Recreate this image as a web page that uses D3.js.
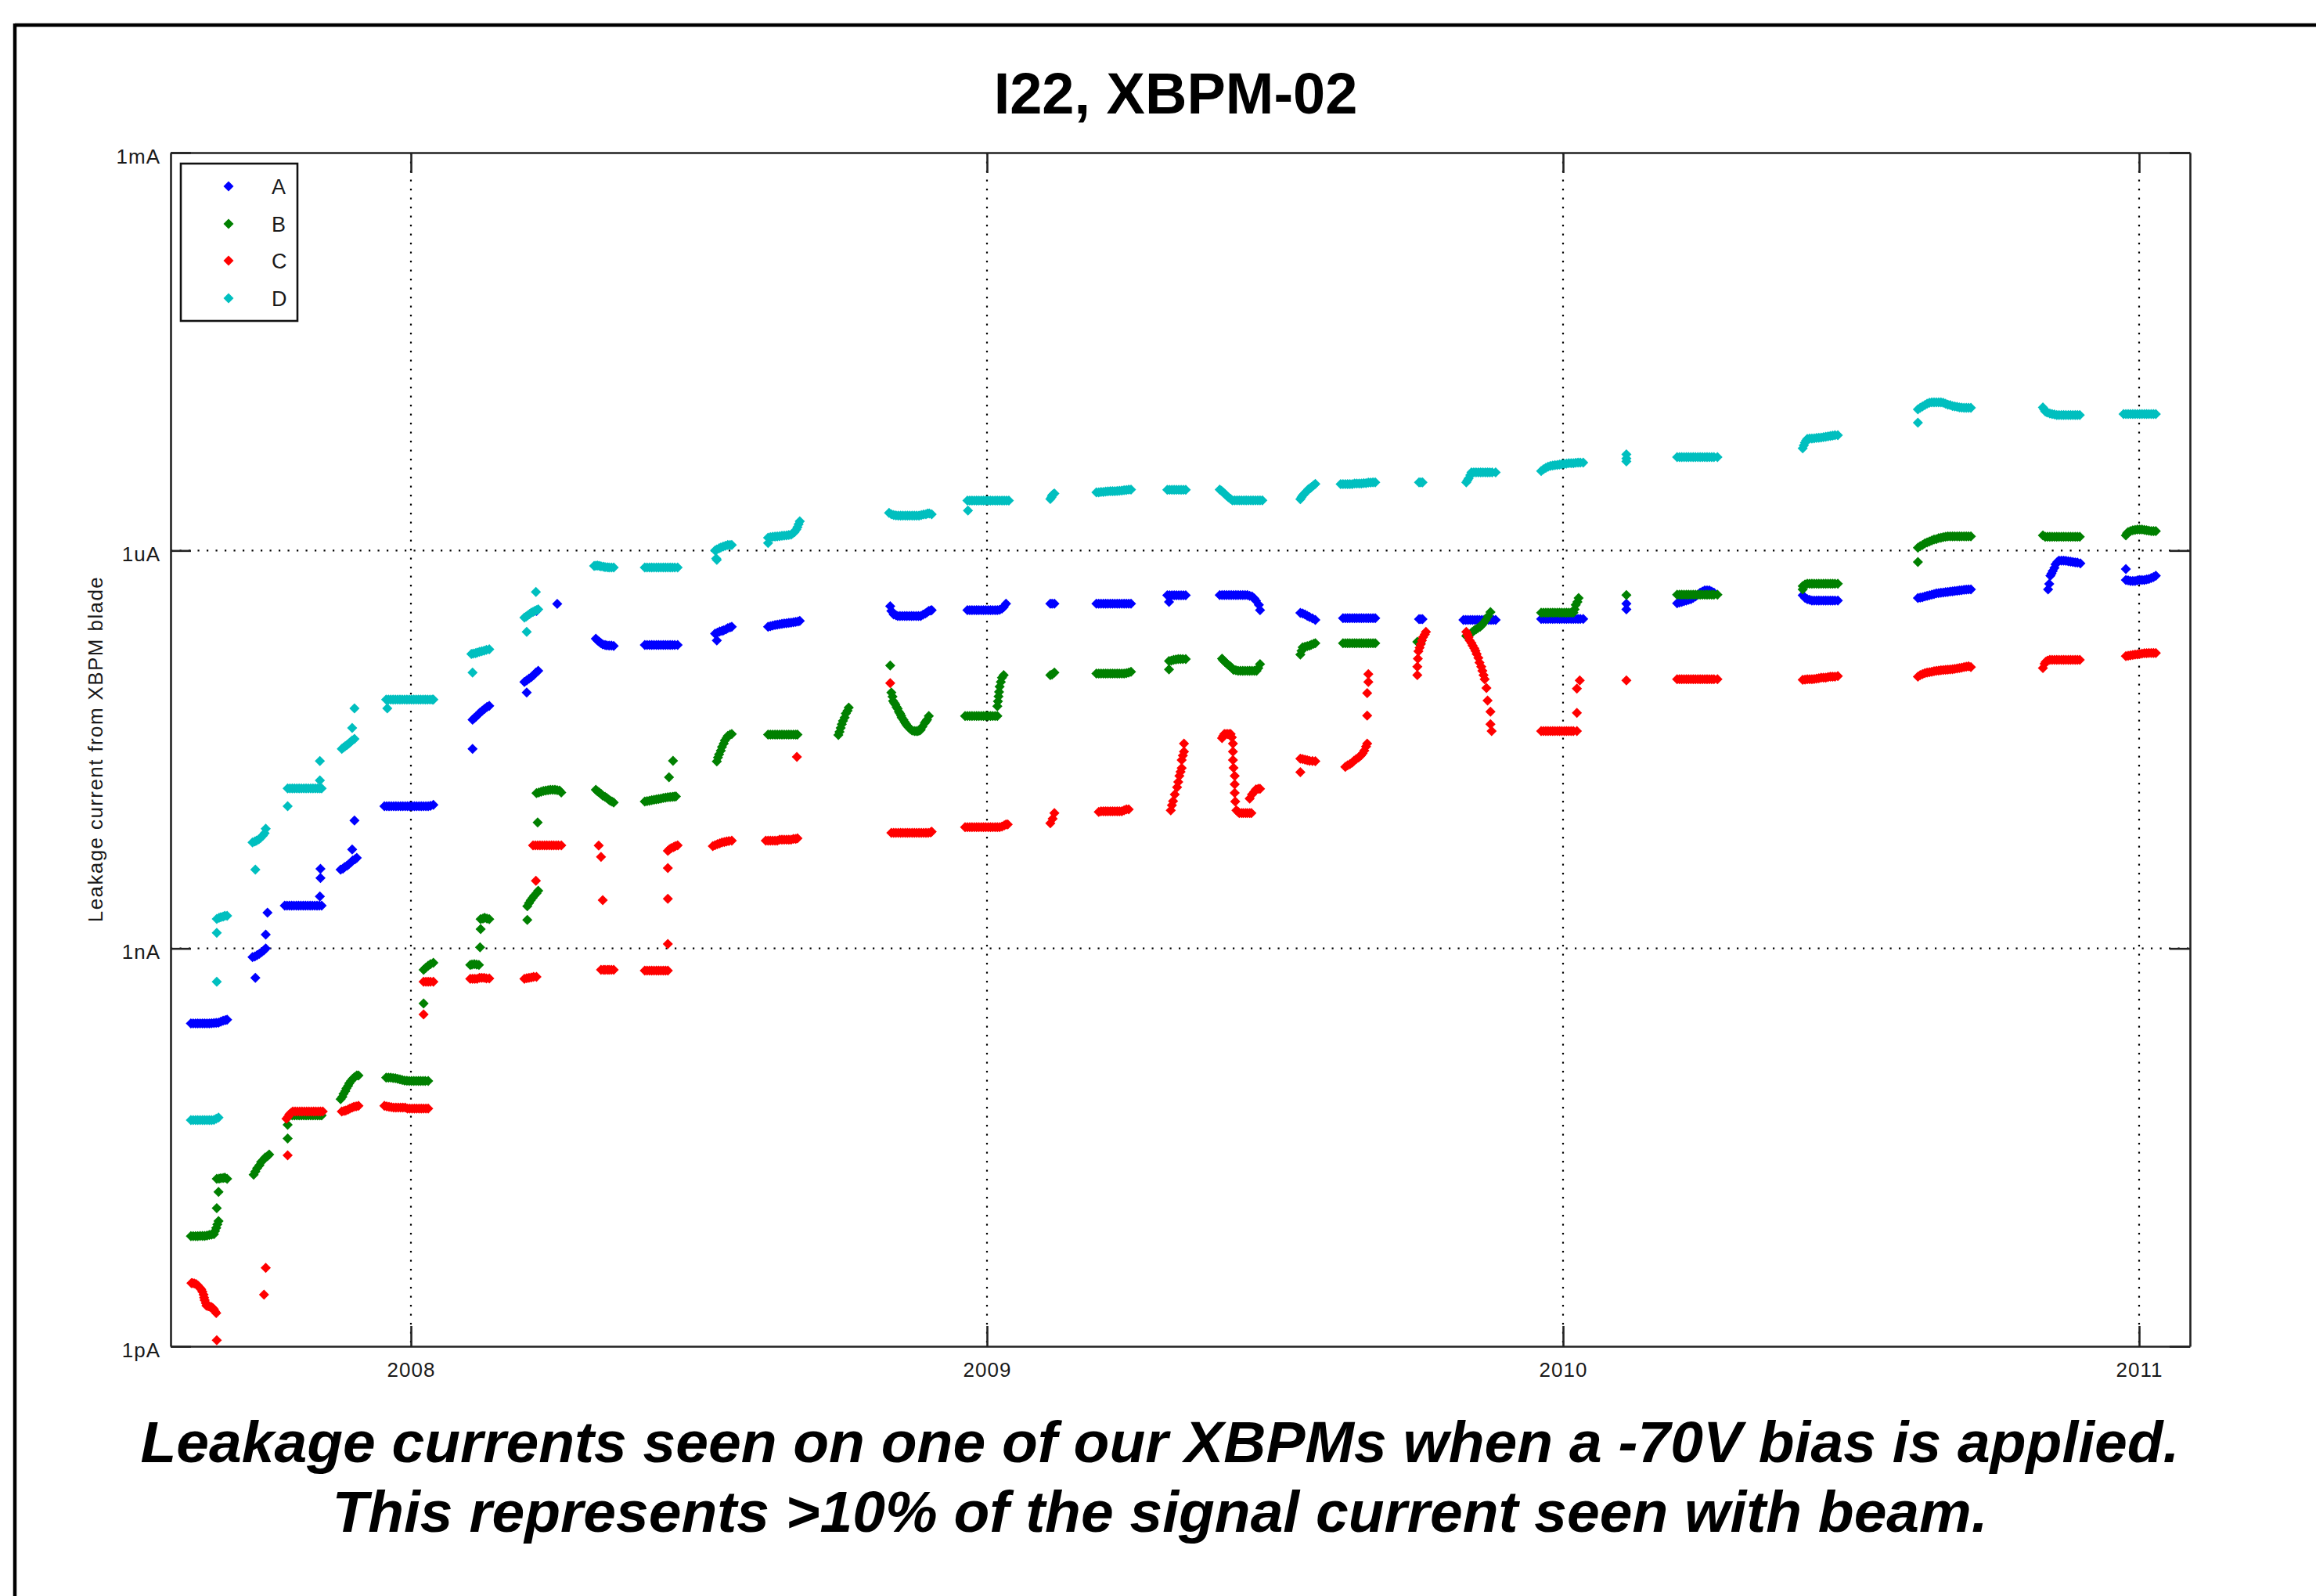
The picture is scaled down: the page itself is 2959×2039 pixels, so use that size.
<!DOCTYPE html>
<html>
<head>
<meta charset="utf-8">
<script src="https://cdn.jsdelivr.net/npm/d3@7"></script>
<style>
  html, body { margin: 0; padding: 0; background: #ffffff; }
  svg { display: block; }
</style>
</head>
<body>
<script>
// ---------------- DATA ----------------
const titleText = "I22, XBPM-02";
const yAxisLabel = "Leakage current from XBPM blade";
const captionLines = [
  "Leakage currents seen on one of our XBPMs when a -70V bias is applied.",
  "This represents >10% of the signal current seen with beam."
];
const years = [2008, 2009, 2010, 2011];
const yearLabels = ["2008", "2009", "2010", "2011"];
const currentTicks = [1e-12, 1e-9, 1e-6, 1e-3];
const currentLabels = ["1pA", "1nA", "1uA", "1mA"];
const seriesNames = ["A", "B", "C", "D"];
const seriesColors = ["#0000ff", "#008000", "#ff0000", "#00bfbf"];

// [decimal year, leakage current in amps]
const seriesA = [
  [2007.618,2.72e-10],[2007.622,2.72e-10],[2007.626,2.72e-10],[2007.630,2.72e-10],[2007.634,2.72e-10],[2007.638,2.72e-10],[2007.642,2.72e-10],[2007.646,2.72e-10],[2007.650,2.72e-10],[2007.654,2.73e-10],[2007.658,2.74e-10],[2007.662,2.75e-10],[2007.666,2.76e-10],[2007.670,2.8e-10],[2007.674,2.85e-10],[2007.678,2.88e-10],[2007.681,2.9e-10],
  [2007.730,6.0e-10],
  [2007.725,8.6e-10],[2007.729,8.7e-10],[2007.733,8.9e-10],[2007.737,9.1e-10],[2007.741,9.4e-10],[2007.745,9.7e-10],[2007.748,1.0e-9],
  [2007.748,1.27e-9],[2007.751,1.86e-9],
  [2007.781,2.1e-9],[2007.785,2.1e-9],[2007.789,2.1e-9],[2007.793,2.1e-9],[2007.797,2.1e-9],[2007.801,2.1e-9],[2007.805,2.1e-9],[2007.809,2.1e-9],[2007.813,2.1e-9],[2007.817,2.1e-9],[2007.821,2.1e-9],[2007.825,2.1e-9],[2007.829,2.1e-9],[2007.833,2.1e-9],[2007.837,2.1e-9],[2007.841,2.1e-9],[2007.845,2.1e-9],
  [2007.842,2.47e-9],[2007.843,3.39e-9],[2007.843,3.98e-9],
  [2007.878,3.93e-9],[2007.882,4.0e-9],[2007.885,4.1e-9],[2007.889,4.2e-9],[2007.892,4.3e-9],[2007.896,4.45e-9],[2007.899,4.6e-9],[2007.903,4.7e-9],[2007.906,4.82e-9],
  [2007.898,5.58e-9],[2007.902,9.2e-9],
  [2007.954,1.18e-8],[2007.958,1.18e-8],[2007.962,1.18e-8],[2007.966,1.18e-8],[2007.970,1.18e-8],[2007.974,1.18e-8],[2007.978,1.18e-8],[2007.982,1.18e-8],[2007.986,1.18e-8],[2007.990,1.18e-8],[2007.994,1.18e-8],[2007.998,1.18e-8],[2008.002,1.18e-8],[2008.006,1.18e-8],[2008.010,1.18e-8],[2008.014,1.18e-8],[2008.018,1.18e-8],[2008.022,1.18e-8],[2008.026,1.18e-8],[2008.030,1.18e-8],[2008.034,1.19e-8],[2008.039,1.21e-8],
  [2008.107,3.2e-8],
  [2008.107,5.3e-8],[2008.110,5.45e-8],[2008.113,5.6e-8],[2008.117,5.8e-8],[2008.120,6.0e-8],[2008.124,6.2e-8],[2008.128,6.4e-8],[2008.132,6.6e-8],[2008.136,6.75e-8],
  [2008.201,8.5e-8],
  [2008.197,1.02e-7],[2008.201,1.05e-7],[2008.205,1.08e-7],[2008.209,1.11e-7],[2008.213,1.15e-7],[2008.217,1.2e-7],[2008.221,1.24e-7],
  [2008.218,3.5e-7],[2008.254,3.96e-7],
  [2008.321,2.16e-7],[2008.324,2.1e-7],[2008.327,2.05e-7],[2008.330,2.0e-7],[2008.333,1.96e-7],[2008.337,1.94e-7],[2008.340,1.93e-7],[2008.344,1.92e-7],[2008.348,1.92e-7],[2008.352,1.91e-7],
  [2008.406,1.94e-7],[2008.410,1.94e-7],[2008.414,1.94e-7],[2008.418,1.94e-7],[2008.422,1.94e-7],[2008.426,1.94e-7],[2008.430,1.94e-7],[2008.434,1.94e-7],[2008.438,1.94e-7],[2008.442,1.94e-7],[2008.446,1.94e-7],[2008.450,1.94e-7],[2008.454,1.94e-7],[2008.458,1.94e-7],[2008.463,1.94e-7],
  [2008.531,2.1e-7],
  [2008.528,2.36e-7],[2008.532,2.4e-7],[2008.536,2.45e-7],[2008.540,2.48e-7],[2008.543,2.5e-7],[2008.547,2.55e-7],[2008.550,2.6e-7],[2008.554,2.63e-7],[2008.557,2.66e-7],
  [2008.620,2.66e-7],[2008.624,2.69e-7],[2008.628,2.72e-7],[2008.632,2.74e-7],[2008.636,2.76e-7],[2008.640,2.78e-7],[2008.644,2.8e-7],[2008.648,2.82e-7],[2008.652,2.83e-7],[2008.656,2.85e-7],[2008.660,2.86e-7],[2008.664,2.88e-7],[2008.668,2.9e-7],[2008.672,2.92e-7],[2008.675,2.95e-7],
  [2008.832,3.8e-7],[2008.834,3.5e-7],[2008.838,3.3e-7],[2008.842,3.25e-7],[2008.845,3.21e-7],[2008.849,3.21e-7],[2008.853,3.21e-7],[2008.857,3.21e-7],[2008.861,3.21e-7],[2008.865,3.21e-7],[2008.869,3.21e-7],[2008.873,3.21e-7],[2008.877,3.21e-7],[2008.881,3.21e-7],[2008.885,3.21e-7],[2008.889,3.28e-7],[2008.893,3.35e-7],[2008.896,3.42e-7],[2008.899,3.5e-7],[2008.902,3.53e-7],[2008.904,3.55e-7],
  [2008.966,3.55e-7],[2008.970,3.55e-7],[2008.974,3.55e-7],[2008.978,3.55e-7],[2008.982,3.55e-7],[2008.986,3.55e-7],[2008.990,3.55e-7],[2008.994,3.55e-7],[2008.998,3.55e-7],[2009.002,3.55e-7],[2009.006,3.55e-7],[2009.010,3.55e-7],[2009.014,3.55e-7],[2009.018,3.55e-7],[2009.022,3.58e-7],[2009.026,3.65e-7],[2009.029,3.75e-7],[2009.033,3.98e-7],
  [2009.110,3.98e-7],[2009.113,3.98e-7],[2009.117,3.98e-7],
  [2009.190,3.98e-7],[2009.194,3.98e-7],[2009.198,3.98e-7],[2009.202,3.98e-7],[2009.206,3.98e-7],[2009.210,3.98e-7],[2009.214,3.98e-7],[2009.218,3.98e-7],[2009.222,3.98e-7],[2009.226,3.98e-7],[2009.230,3.98e-7],[2009.234,3.98e-7],[2009.238,3.98e-7],[2009.242,3.98e-7],[2009.246,3.98e-7],[2009.250,3.98e-7],
  [2009.316,4.1e-7],[2009.313,4.6e-7],[2009.317,4.6e-7],[2009.321,4.6e-7],[2009.325,4.6e-7],[2009.329,4.6e-7],[2009.333,4.6e-7],[2009.337,4.6e-7],[2009.341,4.6e-7],[2009.345,4.6e-7],
  [2009.404,4.62e-7],[2009.408,4.62e-7],[2009.412,4.62e-7],[2009.416,4.62e-7],[2009.420,4.62e-7],[2009.424,4.62e-7],[2009.428,4.62e-7],[2009.432,4.62e-7],[2009.436,4.62e-7],[2009.440,4.62e-7],[2009.444,4.62e-7],[2009.448,4.62e-7],[2009.452,4.62e-7],[2009.456,4.55e-7],[2009.460,4.5e-7],[2009.464,4.35e-7],[2009.467,4.18e-7],[2009.472,3.9e-7],[2009.474,3.55e-7],
  [2009.544,3.39e-7],[2009.548,3.35e-7],[2009.552,3.3e-7],[2009.556,3.22e-7],[2009.560,3.15e-7],[2009.565,3.08e-7],[2009.570,3.0e-7],
  [2009.618,3.09e-7],[2009.622,3.09e-7],[2009.626,3.09e-7],[2009.630,3.09e-7],[2009.634,3.09e-7],[2009.638,3.09e-7],[2009.642,3.09e-7],[2009.646,3.09e-7],[2009.650,3.09e-7],[2009.654,3.09e-7],[2009.658,3.09e-7],[2009.662,3.09e-7],[2009.666,3.09e-7],[2009.670,3.09e-7],[2009.674,3.09e-7],
  [2009.750,3.04e-7],[2009.753,3.04e-7],[2009.756,3.04e-7],
  [2009.827,3.0e-7],[2009.831,3.0e-7],[2009.835,3.0e-7],[2009.839,3.0e-7],[2009.843,3.0e-7],[2009.847,3.0e-7],[2009.851,3.0e-7],[2009.855,3.0e-7],[2009.859,3.0e-7],[2009.863,3.0e-7],[2009.867,3.0e-7],[2009.871,3.0e-7],[2009.875,3.0e-7],[2009.879,3.0e-7],[2009.883,3.0e-7],
  [2009.962,3.05e-7],[2009.966,3.05e-7],[2009.970,3.05e-7],[2009.974,3.05e-7],[2009.978,3.05e-7],[2009.982,3.05e-7],[2009.986,3.05e-7],[2009.990,3.05e-7],[2009.994,3.05e-7],[2009.998,3.05e-7],[2010.002,3.05e-7],[2010.006,3.05e-7],[2010.010,3.05e-7],[2010.014,3.05e-7],[2010.018,3.05e-7],[2010.022,3.05e-7],[2010.026,3.05e-7],[2010.030,3.05e-7],[2010.035,3.05e-7],
  [2010.110,3.98e-7],[2010.110,3.6e-7],
  [2010.198,4.0e-7],[2010.202,4.05e-7],[2010.206,4.1e-7],[2010.210,4.15e-7],[2010.214,4.2e-7],[2010.218,4.25e-7],[2010.222,4.3e-7],[2010.226,4.4e-7],[2010.230,4.5e-7],[2010.234,4.65e-7],[2010.238,4.8e-7],[2010.242,4.9e-7],[2010.246,5.0e-7],[2010.250,5.0e-7],[2010.254,5.0e-7],[2010.258,4.9e-7],[2010.262,4.8e-7],
  [2010.416,4.6e-7],[2010.420,4.4e-7],[2010.424,4.3e-7],[2010.428,4.25e-7],[2010.432,4.2e-7],[2010.436,4.2e-7],[2010.440,4.2e-7],[2010.444,4.2e-7],[2010.448,4.2e-7],[2010.452,4.2e-7],[2010.456,4.2e-7],[2010.460,4.2e-7],[2010.464,4.2e-7],[2010.468,4.2e-7],[2010.472,4.2e-7],[2010.477,4.2e-7],
  [2010.616,4.38e-7],[2010.620,4.42e-7],[2010.624,4.45e-7],[2010.628,4.5e-7],[2010.632,4.55e-7],[2010.636,4.6e-7],[2010.640,4.65e-7],[2010.644,4.7e-7],[2010.648,4.75e-7],[2010.652,4.78e-7],[2010.656,4.8e-7],[2010.660,4.82e-7],[2010.664,4.85e-7],[2010.668,4.88e-7],[2010.672,4.9e-7],[2010.676,4.92e-7],[2010.680,4.95e-7],[2010.684,4.98e-7],[2010.688,5.0e-7],[2010.692,5.02e-7],[2010.696,5.05e-7],[2010.700,5.08e-7],[2010.704,5.1e-7],[2010.708,5.1e-7],
  [2010.842,5.1e-7],[2010.844,5.6e-7],[2010.846,6.46e-7],[2010.848,6.7e-7],[2010.850,7.0e-7],[2010.853,7.4e-7],[2010.855,7.87e-7],[2010.858,8.2e-7],[2010.861,8.4e-7],[2010.865,8.4e-7],[2010.869,8.4e-7],[2010.873,8.35e-7],[2010.877,8.3e-7],[2010.881,8.25e-7],[2010.885,8.2e-7],[2010.889,8.15e-7],[2010.893,8.1e-7],[2010.898,8.0e-7],
  [2010.977,7.26e-7],[2010.977,6.0e-7],[2010.981,5.95e-7],[2010.985,5.9e-7],[2010.989,5.9e-7],[2010.993,5.9e-7],[2010.997,5.95e-7],[2011.001,6.0e-7],[2011.005,6.0e-7],[2011.009,6.0e-7],[2011.013,6.05e-7],[2011.017,6.1e-7],[2011.021,6.2e-7],[2011.025,6.3e-7],[2011.029,6.46e-7]
];

const seriesB = [
  [2007.618,6.76e-12],[2007.622,6.76e-12],[2007.626,6.76e-12],[2007.630,6.78e-12],[2007.634,6.8e-12],[2007.638,6.8e-12],[2007.642,6.8e-12],[2007.646,6.85e-12],[2007.650,6.9e-12],[2007.654,6.95e-12],[2007.658,7.0e-12],[2007.660,7.4e-12],[2007.662,7.8e-12],[2007.664,8.3e-12],[2007.666,8.8e-12],
  [2007.663,1.1e-11],[2007.666,1.46e-11],
  [2007.663,1.83e-11],[2007.667,1.84e-11],[2007.670,1.85e-11],[2007.674,1.86e-11],[2007.677,1.87e-11],[2007.681,1.83e-11],
  [2007.727,1.97e-11],[2007.730,2.08e-11],[2007.733,2.2e-11],[2007.737,2.32e-11],[2007.740,2.45e-11],[2007.744,2.55e-11],[2007.747,2.65e-11],[2007.751,2.72e-11],[2007.754,2.79e-11],
  [2007.786,3.69e-11],[2007.786,4.68e-11],
  [2007.790,5.5e-11],[2007.794,5.5e-11],[2007.798,5.5e-11],[2007.802,5.5e-11],[2007.806,5.5e-11],[2007.810,5.5e-11],[2007.814,5.5e-11],[2007.818,5.5e-11],[2007.822,5.5e-11],[2007.826,5.5e-11],[2007.830,5.5e-11],[2007.834,5.5e-11],[2007.838,5.5e-11],[2007.842,5.5e-11],[2007.845,5.5e-11],
  [2007.878,7.3e-11],[2007.881,7.6e-11],[2007.883,8.0e-11],[2007.886,8.4e-11],[2007.888,8.8e-11],[2007.891,9.2e-11],[2007.893,9.6e-11],[2007.896,1.0e-10],[2007.899,1.04e-10],[2007.902,1.07e-10],[2007.906,1.1e-10],[2007.909,1.1e-10],
  [2007.957,1.06e-10],[2007.961,1.06e-10],[2007.965,1.06e-10],[2007.969,1.055e-10],[2007.973,1.05e-10],[2007.977,1.04e-10],[2007.981,1.03e-10],[2007.985,1.02e-10],[2007.989,1.01e-10],[2007.993,1.005e-10],[2007.997,1.0e-10],[2008.001,1.0e-10],[2008.005,1.0e-10],[2008.009,1.0e-10],[2008.013,1.0e-10],[2008.017,1.0e-10],[2008.021,1.0e-10],[2008.025,1.0e-10],[2008.030,1.0e-10],
  [2008.022,3.85e-10],
  [2008.022,6.9e-10],[2008.026,7.15e-10],[2008.030,7.4e-10],[2008.034,7.6e-10],[2008.039,7.8e-10],
  [2008.103,7.5e-10],[2008.106,7.55e-10],[2008.110,7.6e-10],[2008.114,7.55e-10],[2008.118,7.5e-10],
  [2008.120,1.02e-9],[2008.121,1.4e-9],
  [2008.121,1.66e-9],[2008.125,1.68e-9],[2008.128,1.7e-9],[2008.132,1.68e-9],[2008.136,1.66e-9],
  [2008.202,1.64e-9],
  [2008.202,2.08e-9],[2008.205,2.2e-9],[2008.208,2.3e-9],[2008.211,2.4e-9],[2008.214,2.5e-9],[2008.218,2.6e-9],[2008.221,2.72e-9],
  [2008.220,8.9e-9],
  [2008.218,1.48e-8],[2008.222,1.5e-8],[2008.226,1.52e-8],[2008.230,1.54e-8],[2008.234,1.55e-8],[2008.238,1.56e-8],[2008.242,1.57e-8],[2008.246,1.57e-8],[2008.250,1.57e-8],[2008.254,1.56e-8],[2008.258,1.55e-8],[2008.261,1.5e-8],
  [2008.321,1.57e-8],[2008.324,1.53e-8],[2008.327,1.5e-8],[2008.330,1.46e-8],[2008.333,1.42e-8],[2008.337,1.39e-8],[2008.340,1.36e-8],[2008.343,1.33e-8],[2008.346,1.3e-8],[2008.349,1.28e-8],[2008.352,1.26e-8],
  [2008.406,1.28e-8],[2008.410,1.29e-8],[2008.414,1.3e-8],[2008.418,1.31e-8],[2008.422,1.32e-8],[2008.426,1.33e-8],[2008.430,1.34e-8],[2008.434,1.35e-8],[2008.438,1.36e-8],[2008.442,1.37e-8],[2008.446,1.38e-8],[2008.450,1.385e-8],[2008.454,1.39e-8],[2008.457,1.395e-8],[2008.460,1.4e-8],
  [2008.448,1.95e-8],[2008.455,2.6e-8],
  [2008.531,2.57e-8],[2008.533,2.75e-8],[2008.535,2.9e-8],[2008.538,3.1e-8],[2008.540,3.3e-8],[2008.543,3.5e-8],[2008.545,3.7e-8],[2008.548,3.85e-8],[2008.550,4.0e-8],[2008.554,4.1e-8],[2008.557,4.14e-8],
  [2008.620,4.1e-8],[2008.624,4.1e-8],[2008.628,4.1e-8],[2008.632,4.1e-8],[2008.636,4.1e-8],[2008.640,4.1e-8],[2008.644,4.1e-8],[2008.648,4.1e-8],[2008.652,4.1e-8],[2008.656,4.1e-8],[2008.660,4.1e-8],[2008.664,4.1e-8],[2008.668,4.1e-8],[2008.671,4.1e-8],
  [2008.742,4.06e-8],[2008.744,4.3e-8],[2008.746,4.6e-8],[2008.748,4.9e-8],[2008.750,5.2e-8],[2008.753,5.5e-8],[2008.755,5.9e-8],[2008.758,6.2e-8],[2008.760,6.55e-8],
  [2008.832,1.36e-7],
  [2008.834,8.5e-8],[2008.836,7.9e-8],[2008.837,7.35e-8],[2008.839,7.1e-8],[2008.841,6.9e-8],[2008.843,6.6e-8],[2008.845,6.4e-8],[2008.847,6.1e-8],[2008.849,5.9e-8],[2008.851,5.7e-8],[2008.852,5.5e-8],[2008.855,5.3e-8],[2008.857,5.1e-8],[2008.859,4.95e-8],[2008.861,4.8e-8],[2008.864,4.65e-8],[2008.867,4.5e-8],[2008.870,4.4e-8],[2008.874,4.35e-8],[2008.877,4.35e-8],[2008.880,4.35e-8],[2008.883,4.4e-8],[2008.885,4.45e-8],[2008.888,4.7e-8],[2008.892,5.0e-8],[2008.894,5.15e-8],[2008.896,5.3e-8],[2008.899,5.65e-8],
  [2008.962,5.65e-8],[2008.966,5.65e-8],[2008.970,5.65e-8],[2008.974,5.65e-8],[2008.978,5.65e-8],[2008.982,5.65e-8],[2008.986,5.65e-8],[2008.990,5.65e-8],[2008.994,5.65e-8],[2008.998,5.65e-8],[2009.002,5.65e-8],[2009.006,5.65e-8],[2009.010,5.65e-8],[2009.014,5.65e-8],[2009.018,5.65e-8],
  [2009.018,6.7e-8],[2009.019,7.3e-8],[2009.020,7.94e-8],[2009.021,8.6e-8],[2009.022,9.4e-8],[2009.024,1.02e-7],[2009.026,1.1e-7],[2009.029,1.15e-7],
  [2009.110,1.15e-7],[2009.113,1.16e-7],[2009.117,1.2e-7],
  [2009.190,1.18e-7],[2009.194,1.18e-7],[2009.198,1.18e-7],[2009.202,1.18e-7],[2009.206,1.18e-7],[2009.210,1.18e-7],[2009.214,1.18e-7],[2009.218,1.18e-7],[2009.222,1.18e-7],[2009.226,1.18e-7],[2009.230,1.18e-7],[2009.234,1.18e-7],[2009.238,1.18e-7],[2009.242,1.19e-7],[2009.246,1.2e-7],[2009.250,1.22e-7],
  [2009.316,1.27e-7],[2009.316,1.47e-7],[2009.320,1.48e-7],[2009.324,1.5e-7],[2009.328,1.51e-7],[2009.332,1.52e-7],[2009.336,1.52e-7],[2009.340,1.52e-7],[2009.345,1.52e-7],
  [2009.408,1.53e-7],[2009.410,1.49e-7],[2009.413,1.45e-7],[2009.416,1.41e-7],[2009.418,1.38e-7],[2009.421,1.35e-7],[2009.423,1.33e-7],[2009.426,1.29e-7],[2009.428,1.26e-7],[2009.432,1.25e-7],[2009.436,1.24e-7],[2009.440,1.24e-7],[2009.444,1.24e-7],[2009.448,1.24e-7],[2009.452,1.24e-7],[2009.456,1.24e-7],[2009.460,1.24e-7],[2009.464,1.24e-7],[2009.468,1.24e-7],[2009.471,1.3e-7],[2009.474,1.39e-7],
  [2009.544,1.64e-7],[2009.546,1.75e-7],[2009.548,1.86e-7],[2009.552,1.88e-7],[2009.556,1.9e-7],[2009.560,1.92e-7],[2009.563,1.95e-7],[2009.567,1.98e-7],[2009.570,2.0e-7],
  [2009.618,2.0e-7],[2009.622,2.0e-7],[2009.626,2.0e-7],[2009.630,2.0e-7],[2009.634,2.0e-7],[2009.638,2.0e-7],[2009.642,2.0e-7],[2009.646,2.0e-7],[2009.650,2.0e-7],[2009.654,2.0e-7],[2009.658,2.0e-7],[2009.662,2.0e-7],[2009.666,2.0e-7],[2009.670,2.0e-7],[2009.674,2.0e-7],
  [2009.747,2.05e-7],[2009.750,2.02e-7],[2009.753,2.0e-7],
  [2009.832,2.27e-7],[2009.835,2.3e-7],[2009.839,2.35e-7],[2009.842,2.42e-7],[2009.846,2.5e-7],[2009.849,2.55e-7],[2009.852,2.6e-7],[2009.856,2.66e-7],[2009.859,2.73e-7],[2009.862,2.85e-7],[2009.866,3.0e-7],[2009.870,3.2e-7],[2009.874,3.43e-7],
  [2009.962,3.4e-7],[2009.966,3.4e-7],[2009.970,3.4e-7],[2009.974,3.4e-7],[2009.978,3.4e-7],[2009.982,3.4e-7],[2009.986,3.4e-7],[2009.990,3.4e-7],[2009.994,3.4e-7],[2009.998,3.4e-7],[2010.002,3.4e-7],[2010.006,3.4e-7],[2010.010,3.4e-7],[2010.014,3.4e-7],[2010.018,3.4e-7],[2010.020,3.6e-7],[2010.022,3.9e-7],[2010.025,4.1e-7],[2010.027,4.38e-7],
  [2010.110,4.62e-7],
  [2010.198,4.65e-7],[2010.202,4.65e-7],[2010.206,4.65e-7],[2010.210,4.65e-7],[2010.214,4.65e-7],[2010.218,4.65e-7],[2010.222,4.65e-7],[2010.226,4.65e-7],[2010.230,4.65e-7],[2010.234,4.65e-7],[2010.238,4.65e-7],[2010.242,4.65e-7],[2010.246,4.65e-7],[2010.250,4.65e-7],[2010.254,4.65e-7],[2010.258,4.65e-7],[2010.262,4.65e-7],[2010.268,4.65e-7],
  [2010.416,5.1e-7],[2010.416,5.4e-7],[2010.420,5.55e-7],[2010.424,5.62e-7],[2010.428,5.62e-7],[2010.432,5.62e-7],[2010.436,5.62e-7],[2010.440,5.62e-7],[2010.444,5.62e-7],[2010.448,5.62e-7],[2010.452,5.62e-7],[2010.456,5.62e-7],[2010.460,5.62e-7],[2010.464,5.62e-7],[2010.468,5.62e-7],[2010.472,5.62e-7],[2010.477,5.62e-7],
  [2010.616,8.2e-7],
  [2010.616,1.05e-6],[2010.620,1.08e-6],[2010.624,1.1e-6],[2010.628,1.13e-6],[2010.632,1.15e-6],[2010.636,1.17e-6],[2010.640,1.19e-6],[2010.644,1.21e-6],[2010.648,1.22e-6],[2010.652,1.24e-6],[2010.656,1.25e-6],[2010.660,1.26e-6],[2010.664,1.27e-6],[2010.668,1.28e-6],[2010.672,1.28e-6],[2010.676,1.28e-6],[2010.680,1.28e-6],[2010.684,1.28e-6],[2010.688,1.28e-6],[2010.692,1.28e-6],[2010.696,1.28e-6],[2010.700,1.28e-6],[2010.704,1.28e-6],[2010.708,1.28e-6],
  [2010.833,1.3e-6],[2010.837,1.27e-6],[2010.841,1.27e-6],[2010.845,1.27e-6],[2010.849,1.27e-6],[2010.853,1.27e-6],[2010.857,1.27e-6],[2010.861,1.27e-6],[2010.865,1.27e-6],[2010.869,1.27e-6],[2010.873,1.27e-6],[2010.877,1.27e-6],[2010.881,1.27e-6],[2010.885,1.27e-6],[2010.889,1.27e-6],[2010.893,1.27e-6],[2010.897,1.27e-6],
  [2010.977,1.3e-6],[2010.979,1.35e-6],[2010.981,1.38e-6],[2010.985,1.4e-6],[2010.989,1.42e-6],[2010.993,1.43e-6],[2010.997,1.44e-6],[2011.001,1.44e-6],[2011.005,1.44e-6],[2011.009,1.43e-6],[2011.013,1.42e-6],[2011.017,1.41e-6],[2011.021,1.4e-6],[2011.025,1.4e-6],[2011.029,1.4e-6]
];

const seriesC = [
  [2007.619,3.0e-12],[2007.621,3.0e-12],[2007.624,2.98e-12],[2007.627,2.95e-12],[2007.630,2.88e-12],[2007.632,2.8e-12],[2007.634,2.75e-12],[2007.636,2.69e-12],[2007.638,2.58e-12],[2007.640,2.45e-12],[2007.641,2.33e-12],[2007.642,2.23e-12],[2007.644,2.12e-12],[2007.645,2.03e-12],[2007.648,2.01e-12],[2007.650,2.0e-12],[2007.652,1.98e-12],[2007.654,1.97e-12],[2007.656,1.94e-12],[2007.658,1.9e-12],[2007.660,1.83e-12],[2007.662,1.78e-12],
  [2007.663,1.11e-12],
  [2007.748,3.9e-12],[2007.745,2.45e-12],
  [2007.786,2.75e-11],
  [2007.784,5.2e-11],[2007.787,5.4e-11],[2007.789,5.6e-11],[2007.792,5.75e-11],[2007.795,5.9e-11],[2007.799,5.9e-11],[2007.803,5.9e-11],[2007.807,5.9e-11],[2007.811,5.9e-11],[2007.815,5.9e-11],[2007.819,5.9e-11],[2007.823,5.9e-11],[2007.827,5.9e-11],[2007.831,5.9e-11],[2007.835,5.9e-11],[2007.839,5.9e-11],[2007.843,5.9e-11],[2007.847,5.9e-11],
  [2007.880,5.9e-11],[2007.884,5.95e-11],[2007.887,6.0e-11],[2007.891,6.1e-11],[2007.894,6.2e-11],[2007.898,6.3e-11],[2007.901,6.4e-11],[2007.905,6.45e-11],[2007.909,6.5e-11],
  [2007.954,6.5e-11],[2007.958,6.45e-11],[2007.962,6.4e-11],[2007.966,6.35e-11],[2007.970,6.3e-11],[2007.974,6.3e-11],[2007.978,6.3e-11],[2007.982,6.3e-11],[2007.986,6.3e-11],[2007.990,6.3e-11],[2007.994,6.2e-11],[2007.998,6.2e-11],[2008.002,6.2e-11],[2008.006,6.2e-11],[2008.010,6.2e-11],[2008.014,6.2e-11],[2008.018,6.2e-11],[2008.022,6.2e-11],[2008.026,6.2e-11],[2008.030,6.2e-11],
  [2008.022,3.18e-10],
  [2008.022,5.6e-10],[2008.026,5.6e-10],[2008.030,5.6e-10],[2008.034,5.6e-10],[2008.039,5.6e-10],
  [2008.103,5.9e-10],[2008.107,5.9e-10],[2008.111,5.9e-10],[2008.115,5.9e-10],[2008.119,6.0e-10],[2008.123,6.0e-10],[2008.127,6.0e-10],[2008.131,5.94e-10],[2008.136,5.94e-10],
  [2008.197,5.9e-10],[2008.201,5.95e-10],[2008.205,6.0e-10],[2008.209,6.05e-10],[2008.213,6.1e-10],[2008.218,6.1e-10],
  [2008.217,3.24e-9],
  [2008.212,5.98e-9],[2008.216,5.98e-9],[2008.220,5.98e-9],[2008.224,5.98e-9],[2008.228,5.98e-9],[2008.232,5.98e-9],[2008.236,5.98e-9],[2008.240,5.98e-9],[2008.244,5.98e-9],[2008.248,5.98e-9],[2008.252,5.98e-9],[2008.256,5.98e-9],[2008.261,5.98e-9],
  [2008.326,5.97e-9],[2008.330,4.9e-9],[2008.333,2.31e-9],
  [2008.330,6.9e-10],[2008.334,6.9e-10],[2008.337,6.9e-10],[2008.341,6.9e-10],[2008.344,6.9e-10],[2008.348,6.9e-10],[2008.352,6.9e-10],
  [2008.406,6.8e-10],[2008.410,6.8e-10],[2008.414,6.8e-10],[2008.418,6.8e-10],[2008.422,6.8e-10],[2008.426,6.8e-10],[2008.430,6.8e-10],[2008.434,6.8e-10],[2008.438,6.8e-10],[2008.442,6.8e-10],[2008.446,6.8e-10],
  [2008.446,1.08e-9],[2008.446,2.37e-9],[2008.446,4.03e-9],[2008.446,5.45e-9],[2008.449,5.6e-9],[2008.452,5.7e-9],[2008.456,5.8e-9],[2008.459,5.9e-9],[2008.463,5.98e-9],
  [2008.524,5.9e-9],[2008.528,6.0e-9],[2008.532,6.1e-9],[2008.536,6.2e-9],[2008.540,6.3e-9],[2008.544,6.35e-9],[2008.548,6.4e-9],[2008.552,6.45e-9],[2008.557,6.5e-9],
  [2008.616,6.5e-9],[2008.620,6.5e-9],[2008.624,6.5e-9],[2008.628,6.5e-9],[2008.632,6.5e-9],[2008.636,6.5e-9],[2008.640,6.6e-9],[2008.644,6.6e-9],[2008.648,6.6e-9],[2008.652,6.6e-9],[2008.656,6.6e-9],[2008.660,6.6e-9],[2008.664,6.7e-9],[2008.668,6.7e-9],[2008.671,6.76e-9],
  [2008.670,2.78e-8],
  [2008.832,1.0e-7],
  [2008.834,7.45e-9],[2008.838,7.45e-9],[2008.842,7.45e-9],[2008.846,7.45e-9],[2008.850,7.45e-9],[2008.854,7.45e-9],[2008.858,7.45e-9],[2008.862,7.45e-9],[2008.866,7.45e-9],[2008.870,7.45e-9],[2008.874,7.45e-9],[2008.878,7.45e-9],[2008.882,7.45e-9],[2008.886,7.45e-9],[2008.890,7.45e-9],[2008.894,7.45e-9],[2008.898,7.45e-9],[2008.902,7.5e-9],[2008.904,7.6e-9],
  [2008.962,8.2e-9],[2008.966,8.2e-9],[2008.970,8.2e-9],[2008.974,8.2e-9],[2008.978,8.2e-9],[2008.982,8.2e-9],[2008.986,8.2e-9],[2008.990,8.2e-9],[2008.994,8.2e-9],[2008.998,8.2e-9],[2009.002,8.2e-9],[2009.006,8.2e-9],[2009.010,8.2e-9],[2009.014,8.2e-9],[2009.018,8.2e-9],[2009.022,8.2e-9],[2009.026,8.3e-9],[2009.030,8.45e-9],[2009.033,8.6e-9],[2009.036,8.6e-9],
  [2009.110,8.8e-9],[2009.114,9.5e-9],[2009.117,1.05e-8],
  [2009.194,1.07e-8],[2009.198,1.08e-8],[2009.202,1.08e-8],[2009.206,1.08e-8],[2009.210,1.08e-8],[2009.214,1.08e-8],[2009.218,1.08e-8],[2009.222,1.08e-8],[2009.226,1.08e-8],[2009.230,1.08e-8],[2009.234,1.08e-8],[2009.238,1.1e-8],[2009.242,1.12e-8],[2009.246,1.12e-8],
  [2009.319,1.1e-8],[2009.321,1.2e-8],[2009.323,1.29e-8],[2009.326,1.45e-8],[2009.330,1.64e-8],[2009.332,1.8e-8],[2009.334,2.0e-8],[2009.336,2.15e-8],[2009.338,2.29e-8],[2009.338,2.63e-8],[2009.340,2.85e-8],[2009.342,3.05e-8],[2009.342,3.5e-8],
  [2009.408,3.85e-8],[2009.410,4.0e-8],[2009.412,4.14e-8],[2009.415,4.14e-8],[2009.418,4.14e-8],[2009.421,4.14e-8],[2009.423,4.14e-8],[2009.425,3.9e-8],
  [2009.427,3.5e-8],[2009.427,3.05e-8],[2009.427,2.63e-8],[2009.428,2.3e-8],[2009.430,2.0e-8],[2009.430,1.73e-8],[2009.430,1.49e-8],[2009.431,1.28e-8],
  [2009.433,1.1e-8],[2009.436,1.07e-8],[2009.438,1.05e-8],[2009.442,1.05e-8],[2009.445,1.05e-8],[2009.449,1.05e-8],[2009.452,1.05e-8],[2009.456,1.05e-8],[2009.459,1.05e-8],
  [2009.456,1.35e-8],[2009.460,1.45e-8],[2009.464,1.52e-8],[2009.467,1.58e-8],[2009.471,1.6e-8],[2009.474,1.6e-8],
  [2009.544,2.13e-8],[2009.544,2.7e-8],[2009.548,2.68e-8],[2009.552,2.65e-8],[2009.556,2.62e-8],[2009.560,2.6e-8],[2009.565,2.59e-8],[2009.570,2.58e-8],
  [2009.622,2.34e-8],[2009.626,2.4e-8],[2009.630,2.45e-8],[2009.634,2.52e-8],[2009.637,2.6e-8],[2009.641,2.68e-8],[2009.645,2.75e-8],[2009.649,2.85e-8],[2009.652,2.95e-8],[2009.655,3.1e-8],[2009.658,3.33e-8],[2009.660,3.5e-8],
  [2009.660,5.7e-8],[2009.660,8.4e-8],[2009.662,1.02e-7],[2009.662,1.17e-7],
  [2009.747,1.15e-7],[2009.747,1.33e-7],[2009.748,1.53e-7],[2009.749,1.74e-7],[2009.751,1.85e-7],[2009.753,1.97e-7],[2009.755,2.1e-7],[2009.757,2.22e-7],[2009.760,2.33e-7],[2009.762,2.44e-7],
  [2009.832,2.44e-7],[2009.834,2.33e-7],[2009.836,2.22e-7],[2009.838,2.1e-7],[2009.841,2.01e-7],[2009.843,1.92e-7],[2009.846,1.83e-7],[2009.848,1.75e-7],[2009.850,1.66e-7],[2009.853,1.55e-7],[2009.855,1.43e-7],[2009.858,1.33e-7],[2009.860,1.24e-7],[2009.862,1.15e-7],[2009.864,1.07e-7],[2009.867,9.2e-8],[2009.869,7.4e-8],[2009.874,6.1e-8],[2009.874,4.9e-8],[2009.876,4.35e-8],
  [2009.962,4.35e-8],[2009.966,4.35e-8],[2009.970,4.35e-8],[2009.974,4.35e-8],[2009.978,4.35e-8],[2009.982,4.35e-8],[2009.986,4.35e-8],[2009.990,4.35e-8],[2009.994,4.35e-8],[2009.998,4.35e-8],[2010.002,4.35e-8],[2010.006,4.35e-8],[2010.010,4.35e-8],[2010.014,4.35e-8],[2010.018,4.35e-8],[2010.024,4.35e-8],
  [2010.024,5.97e-8],[2010.024,9.1e-8],[2010.029,1.05e-7],
  [2010.110,1.05e-7],
  [2010.198,1.07e-7],[2010.202,1.07e-7],[2010.206,1.07e-7],[2010.210,1.07e-7],[2010.214,1.07e-7],[2010.218,1.07e-7],[2010.222,1.07e-7],[2010.226,1.07e-7],[2010.230,1.07e-7],[2010.234,1.07e-7],[2010.238,1.07e-7],[2010.242,1.07e-7],[2010.246,1.07e-7],[2010.250,1.07e-7],[2010.254,1.07e-7],[2010.258,1.07e-7],[2010.262,1.07e-7],[2010.268,1.07e-7],
  [2010.416,1.06e-7],[2010.420,1.065e-7],[2010.424,1.07e-7],[2010.428,1.07e-7],[2010.432,1.07e-7],[2010.436,1.075e-7],[2010.440,1.08e-7],[2010.444,1.09e-7],[2010.448,1.1e-7],[2010.452,1.1e-7],[2010.456,1.1e-7],[2010.460,1.11e-7],[2010.464,1.12e-7],[2010.468,1.12e-7],[2010.472,1.12e-7],[2010.477,1.13e-7],
  [2010.616,1.12e-7],[2010.620,1.15e-7],[2010.624,1.17e-7],[2010.628,1.19e-7],[2010.632,1.2e-7],[2010.636,1.21e-7],[2010.640,1.22e-7],[2010.644,1.23e-7],[2010.648,1.24e-7],[2010.652,1.245e-7],[2010.656,1.25e-7],[2010.660,1.255e-7],[2010.664,1.26e-7],[2010.668,1.265e-7],[2010.672,1.27e-7],[2010.676,1.275e-7],[2010.680,1.28e-7],[2010.684,1.29e-7],[2010.688,1.3e-7],[2010.692,1.31e-7],[2010.696,1.32e-7],[2010.700,1.33e-7],[2010.704,1.34e-7],[2010.708,1.32e-7],
  [2010.833,1.3e-7],[2010.836,1.4e-7],[2010.838,1.45e-7],[2010.841,1.48e-7],[2010.845,1.5e-7],[2010.849,1.5e-7],[2010.853,1.5e-7],[2010.857,1.5e-7],[2010.861,1.5e-7],[2010.865,1.5e-7],[2010.869,1.5e-7],[2010.873,1.5e-7],[2010.877,1.5e-7],[2010.881,1.5e-7],[2010.885,1.5e-7],[2010.889,1.5e-7],[2010.893,1.5e-7],[2010.897,1.5e-7],
  [2010.977,1.6e-7],[2010.981,1.61e-7],[2010.985,1.62e-7],[2010.989,1.63e-7],[2010.993,1.64e-7],[2010.997,1.65e-7],[2011.001,1.66e-7],[2011.005,1.67e-7],[2011.009,1.68e-7],[2011.013,1.685e-7],[2011.017,1.69e-7],[2011.021,1.69e-7],[2011.025,1.69e-7],[2011.029,1.69e-7]
];

const seriesD = [
  [2007.618,5.07e-11],[2007.622,5.07e-11],[2007.626,5.07e-11],[2007.630,5.07e-11],[2007.634,5.07e-11],[2007.638,5.07e-11],[2007.642,5.07e-11],[2007.646,5.07e-11],[2007.650,5.07e-11],[2007.654,5.07e-11],[2007.658,5.1e-11],[2007.662,5.2e-11],[2007.666,5.3e-11],
  [2007.663,5.6e-10],[2007.663,1.31e-9],
  [2007.663,1.67e-9],[2007.667,1.7e-9],[2007.670,1.72e-9],[2007.674,1.74e-9],[2007.677,1.76e-9],[2007.681,1.76e-9],
  [2007.730,3.93e-9],
  [2007.725,6.3e-9],[2007.729,6.4e-9],[2007.732,6.5e-9],[2007.736,6.65e-9],[2007.739,6.8e-9],[2007.743,7.1e-9],[2007.746,7.4e-9],[2007.748,8.0e-9],
  [2007.786,1.18e-8],
  [2007.786,1.61e-8],[2007.790,1.61e-8],[2007.794,1.61e-8],[2007.798,1.61e-8],[2007.802,1.61e-8],[2007.806,1.61e-8],[2007.810,1.61e-8],[2007.814,1.61e-8],[2007.818,1.61e-8],[2007.822,1.61e-8],[2007.826,1.61e-8],[2007.830,1.61e-8],[2007.834,1.61e-8],[2007.838,1.61e-8],[2007.842,1.61e-8],[2007.845,1.61e-8],
  [2007.842,1.85e-8],[2007.842,2.59e-8],
  [2007.880,3.2e-8],[2007.883,3.27e-8],[2007.886,3.35e-8],[2007.889,3.42e-8],[2007.892,3.5e-8],[2007.895,3.6e-8],[2007.898,3.7e-8],[2007.902,3.8e-8],
  [2007.898,4.6e-8],[2007.902,6.45e-8],
  [2007.959,6.45e-8],
  [2007.957,7.53e-8],[2007.961,7.53e-8],[2007.965,7.53e-8],[2007.969,7.53e-8],[2007.973,7.53e-8],[2007.977,7.53e-8],[2007.981,7.53e-8],[2007.985,7.53e-8],[2007.989,7.53e-8],[2007.993,7.53e-8],[2007.997,7.53e-8],[2008.001,7.53e-8],[2008.005,7.53e-8],[2008.009,7.53e-8],[2008.013,7.53e-8],[2008.017,7.53e-8],[2008.021,7.53e-8],[2008.025,7.53e-8],[2008.029,7.53e-8],[2008.033,7.53e-8],[2008.037,7.53e-8],[2008.039,7.53e-8],
  [2008.107,1.2e-7],
  [2008.105,1.66e-7],[2008.108,1.67e-7],[2008.112,1.68e-7],[2008.115,1.7e-7],[2008.119,1.72e-7],[2008.123,1.74e-7],[2008.127,1.76e-7],[2008.131,1.78e-7],[2008.136,1.8e-7],
  [2008.201,2.44e-7],
  [2008.197,3.12e-7],[2008.200,3.18e-7],[2008.203,3.25e-7],[2008.206,3.32e-7],[2008.209,3.4e-7],[2008.212,3.45e-7],[2008.215,3.5e-7],[2008.218,3.55e-7],[2008.221,3.6e-7],
  [2008.217,4.87e-7],
  [2008.318,7.66e-7],[2008.321,7.68e-7],[2008.324,7.7e-7],[2008.327,7.65e-7],[2008.330,7.6e-7],[2008.334,7.55e-7],[2008.337,7.5e-7],[2008.341,7.47e-7],[2008.344,7.45e-7],[2008.348,7.45e-7],[2008.352,7.45e-7],
  [2008.406,7.45e-7],[2008.410,7.45e-7],[2008.414,7.45e-7],[2008.418,7.45e-7],[2008.422,7.45e-7],[2008.426,7.45e-7],[2008.430,7.45e-7],[2008.434,7.45e-7],[2008.438,7.45e-7],[2008.442,7.45e-7],[2008.446,7.45e-7],[2008.450,7.45e-7],[2008.454,7.45e-7],[2008.458,7.45e-7],[2008.463,7.45e-7],
  [2008.531,8.5e-7],[2008.530,8.7e-7],
  [2008.528,1.0e-6],[2008.531,1.02e-6],[2008.535,1.04e-6],[2008.538,1.055e-6],[2008.542,1.07e-6],[2008.546,1.085e-6],[2008.550,1.1e-6],[2008.554,1.1e-6],[2008.557,1.1e-6],
  [2008.620,1.14e-6],
  [2008.620,1.25e-6],[2008.624,1.26e-6],[2008.628,1.27e-6],[2008.632,1.275e-6],[2008.636,1.28e-6],[2008.640,1.285e-6],[2008.644,1.29e-6],[2008.648,1.295e-6],[2008.652,1.3e-6],[2008.656,1.31e-6],[2008.660,1.32e-6],[2008.663,1.35e-6],[2008.666,1.38e-6],[2008.669,1.44e-6],[2008.671,1.5e-6],[2008.673,1.58e-6],[2008.675,1.66e-6],
  [2008.830,1.92e-6],[2008.834,1.88e-6],[2008.838,1.85e-6],[2008.842,1.84e-6],[2008.846,1.83e-6],[2008.850,1.83e-6],[2008.854,1.83e-6],[2008.858,1.83e-6],[2008.862,1.83e-6],[2008.866,1.83e-6],[2008.870,1.83e-6],[2008.874,1.83e-6],[2008.878,1.83e-6],[2008.882,1.83e-6],[2008.886,1.85e-6],[2008.890,1.87e-6],[2008.894,1.88e-6],[2008.897,1.9e-6],[2008.900,1.9e-6],[2008.904,1.88e-6],
  [2008.967,2.0e-6],
  [2008.966,2.38e-6],[2008.970,2.38e-6],[2008.974,2.38e-6],[2008.978,2.38e-6],[2008.982,2.38e-6],[2008.986,2.38e-6],[2008.990,2.38e-6],[2008.994,2.38e-6],[2008.998,2.38e-6],[2009.002,2.38e-6],[2009.006,2.38e-6],[2009.010,2.38e-6],[2009.014,2.38e-6],[2009.018,2.38e-6],[2009.022,2.38e-6],[2009.026,2.38e-6],[2009.030,2.38e-6],[2009.034,2.38e-6],[2009.038,2.38e-6],
  [2009.110,2.45e-6],[2009.112,2.52e-6],[2009.113,2.6e-6],[2009.115,2.65e-6],[2009.117,2.69e-6],
  [2009.190,2.75e-6],[2009.194,2.75e-6],[2009.198,2.76e-6],[2009.202,2.76e-6],[2009.206,2.78e-6],[2009.210,2.79e-6],[2009.214,2.8e-6],[2009.218,2.8e-6],[2009.222,2.8e-6],[2009.226,2.81e-6],[2009.230,2.82e-6],[2009.234,2.83e-6],[2009.238,2.85e-6],[2009.242,2.86e-6],[2009.246,2.88e-6],[2009.250,2.88e-6],
  [2009.313,2.87e-6],[2009.317,2.87e-6],[2009.321,2.87e-6],[2009.325,2.87e-6],[2009.329,2.87e-6],[2009.333,2.87e-6],[2009.337,2.87e-6],[2009.341,2.87e-6],[2009.345,2.87e-6],
  [2009.404,2.88e-6],[2009.407,2.82e-6],[2009.410,2.75e-6],[2009.413,2.67e-6],[2009.416,2.59e-6],[2009.419,2.52e-6],[2009.423,2.45e-6],[2009.426,2.39e-6],[2009.430,2.39e-6],[2009.434,2.39e-6],[2009.438,2.39e-6],[2009.442,2.39e-6],[2009.446,2.39e-6],[2009.450,2.39e-6],[2009.454,2.39e-6],[2009.458,2.39e-6],[2009.462,2.39e-6],[2009.466,2.39e-6],[2009.470,2.39e-6],[2009.474,2.39e-6],[2009.478,2.39e-6],
  [2009.544,2.44e-6],[2009.546,2.52e-6],[2009.548,2.6e-6],[2009.551,2.68e-6],[2009.553,2.75e-6],[2009.556,2.82e-6],[2009.558,2.9e-6],[2009.561,2.95e-6],[2009.563,3.0e-6],[2009.567,3.1e-6],[2009.570,3.18e-6],
  [2009.614,3.17e-6],[2009.618,3.17e-6],[2009.622,3.17e-6],[2009.626,3.17e-6],[2009.630,3.17e-6],[2009.634,3.17e-6],[2009.638,3.2e-6],[2009.642,3.2e-6],[2009.646,3.2e-6],[2009.650,3.2e-6],[2009.654,3.22e-6],[2009.658,3.22e-6],[2009.662,3.25e-6],[2009.666,3.25e-6],[2009.670,3.27e-6],[2009.674,3.27e-6],
  [2009.750,3.27e-6],[2009.753,3.27e-6],[2009.756,3.27e-6],
  [2009.832,3.27e-6],[2009.834,3.38e-6],[2009.836,3.5e-6],[2009.839,3.7e-6],[2009.841,3.88e-6],[2009.845,3.88e-6],[2009.849,3.88e-6],[2009.853,3.88e-6],[2009.857,3.88e-6],[2009.861,3.88e-6],[2009.865,3.88e-6],[2009.869,3.88e-6],[2009.873,3.88e-6],[2009.877,3.88e-6],[2009.883,3.88e-6],
  [2009.962,3.98e-6],[2009.966,4.1e-6],[2009.970,4.2e-6],[2009.974,4.28e-6],[2009.978,4.35e-6],[2009.982,4.38e-6],[2009.986,4.4e-6],[2009.990,4.42e-6],[2009.994,4.45e-6],[2009.998,4.48e-6],[2010.002,4.5e-6],[2010.006,4.52e-6],[2010.010,4.55e-6],[2010.014,4.55e-6],[2010.018,4.55e-6],[2010.022,4.58e-6],[2010.026,4.6e-6],[2010.030,4.6e-6],[2010.035,4.6e-6],
  [2010.110,5.3e-6],[2010.110,4.94e-6],[2010.110,4.7e-6],
  [2010.198,5.06e-6],[2010.202,5.06e-6],[2010.206,5.06e-6],[2010.210,5.06e-6],[2010.214,5.06e-6],[2010.218,5.06e-6],[2010.222,5.06e-6],[2010.226,5.06e-6],[2010.230,5.06e-6],[2010.234,5.06e-6],[2010.238,5.06e-6],[2010.242,5.06e-6],[2010.246,5.06e-6],[2010.250,5.06e-6],[2010.254,5.06e-6],[2010.258,5.06e-6],[2010.262,5.06e-6],[2010.268,5.06e-6],
  [2010.416,5.9e-6],[2010.418,6.2e-6],[2010.420,6.5e-6],[2010.422,6.75e-6],[2010.424,6.95e-6],[2010.428,6.98e-6],[2010.432,7.0e-6],[2010.436,7.02e-6],[2010.440,7.05e-6],[2010.444,7.08e-6],[2010.448,7.1e-6],[2010.452,7.15e-6],[2010.456,7.2e-6],[2010.460,7.25e-6],[2010.464,7.3e-6],[2010.468,7.35e-6],[2010.472,7.4e-6],[2010.477,7.4e-6],
  [2010.616,9.2e-6],
  [2010.616,1.16e-5],[2010.620,1.19e-5],[2010.624,1.22e-5],[2010.628,1.25e-5],[2010.632,1.28e-5],[2010.636,1.3e-5],[2010.640,1.31e-5],[2010.644,1.31e-5],[2010.648,1.31e-5],[2010.652,1.31e-5],[2010.656,1.31e-5],[2010.660,1.3e-5],[2010.664,1.28e-5],[2010.668,1.26e-5],[2010.672,1.25e-5],[2010.676,1.23e-5],[2010.680,1.22e-5],[2010.684,1.21e-5],[2010.688,1.2e-5],[2010.692,1.195e-5],[2010.696,1.19e-5],[2010.700,1.19e-5],[2010.704,1.19e-5],[2010.708,1.19e-5],
  [2010.833,1.2e-5],[2010.835,1.16e-5],[2010.837,1.12e-5],[2010.839,1.11e-5],[2010.841,1.1e-5],[2010.845,1.08e-5],[2010.849,1.07e-5],[2010.853,1.06e-5],[2010.857,1.05e-5],[2010.861,1.05e-5],[2010.865,1.05e-5],[2010.869,1.05e-5],[2010.873,1.05e-5],[2010.877,1.05e-5],[2010.881,1.05e-5],[2010.885,1.05e-5],[2010.889,1.05e-5],[2010.893,1.05e-5],[2010.897,1.05e-5],
  [2010.973,1.07e-5],[2010.977,1.07e-5],[2010.981,1.07e-5],[2010.985,1.07e-5],[2010.989,1.07e-5],[2010.993,1.07e-5],[2010.997,1.07e-5],[2011.001,1.07e-5],[2011.005,1.07e-5],[2011.009,1.07e-5],[2011.013,1.07e-5],[2011.017,1.07e-5],[2011.021,1.07e-5],[2011.025,1.07e-5],[2011.029,1.07e-5]
];

const allSeries = [seriesA, seriesB, seriesC, seriesD];

// ---------------- LAYOUT ----------------
const W = 2959, H = 2039;
const plot = { left: 218, right: 2798, top: 195, bottom: 1720 };
const textFont = "'Liberation Sans', Arial, Helvetica, sans-serif";

const svg = d3.select("body").append("svg")
  .attr("width", W).attr("height", H)
  .attr("viewBox", `0 0 ${W} ${H}`);

svg.append("rect").attr("x", 0).attr("y", 0).attr("width", W).attr("height", H).attr("fill", "#ffffff");

// outer slide frame (top and left edges visible)
svg.append("line").attr("x1", 19).attr("y1", 32).attr("x2", W).attr("y2", 32)
  .attr("stroke", "#000").attr("stroke-width", 4.5);
svg.append("line").attr("x1", 19).attr("y1", 30).attr("x2", 19).attr("y2", H)
  .attr("stroke", "#000").attr("stroke-width", 4.5);

// scales
const x = d3.scaleLinear()
  .domain([2008 - (525 - plot.left) / 736, 2011 + (plot.right - 2733) / 736])
  .range([plot.left, plot.right]);
const y = d3.scaleLog()
  .domain([1e-12, 1e-3])
  .range([plot.bottom, plot.top]);

// grid
const grid = svg.append("g").attr("stroke", "#000").attr("stroke-width", 2.2)
  .attr("stroke-dasharray", "2.2,9.3").attr("fill", "none");
grid.selectAll("line.vx").data(years).join("line")
  .attr("x1", d => x(d)).attr("x2", d => x(d))
  .attr("y1", plot.top).attr("y2", plot.bottom);
grid.selectAll("line.hy").data(currentTicks.filter(v => v > 1e-12 && v < 1e-3)).join("line")
  .attr("y1", d => y(d)).attr("y2", d => y(d))
  .attr("x1", plot.left).attr("x2", plot.right);

// data
const diamond = "M0,-6.5L6.5,0L0,6.5L-6.5,0Z";
allSeries.forEach((s, i) => {
  svg.append("g").attr("class", "series-" + seriesNames[i])
    .selectAll("path").data(s).join("path")
    .attr("d", diamond)
    .attr("transform", d => `translate(${x(d[0])},${y(d[1])})`)
    .attr("fill", seriesColors[i]);
});

// axes with inward ticks
const tickLen = 26;
function styleAxis(g) {
  g.select(".domain").attr("stroke", "#222").attr("stroke-width", 2.6);
  g.selectAll(".tick line").attr("stroke", "#222").attr("stroke-width", 2.6);
  g.selectAll(".tick text").attr("font-family", textFont).attr("font-size", 26)
    .attr("fill", "#1a1a1a").attr("letter-spacing", 1);
}
svg.append("g").attr("transform", `translate(0,${plot.bottom})`)
  .call(d3.axisBottom(x).tickValues(years).tickFormat((d, i) => yearLabels[i])
    .tickSizeInner(-tickLen).tickSizeOuter(0).tickPadding(21))
  .call(styleAxis);
svg.append("g").attr("transform", `translate(0,${plot.top})`)
  .call(d3.axisTop(x).tickValues(years).tickFormat("")
    .tickSizeInner(-tickLen).tickSizeOuter(0))
  .call(styleAxis);
svg.append("g").attr("transform", `translate(${plot.left},0)`)
  .call(d3.axisLeft(y).tickValues(currentTicks).tickFormat((d, i) => currentLabels[i])
    .tickSizeInner(-tickLen).tickSizeOuter(0).tickPadding(13))
  .call(styleAxis)
  .call(g => g.selectAll(".tick text").attr("dy", "0.5em"));
svg.append("g").attr("transform", `translate(${plot.right},0)`)
  .call(d3.axisRight(y).tickValues(currentTicks).tickFormat("")
    .tickSizeInner(-tickLen).tickSizeOuter(0))
  .call(styleAxis);

// y label
svg.append("text")
  .attr("transform", "translate(131,957) rotate(-90)")
  .attr("text-anchor", "middle")
  .attr("font-family", textFont).attr("font-size", 26)
  .attr("letter-spacing", 1.4)
  .attr("fill", "#1a1a1a")
  .text(yAxisLabel);

// legend
const legend = svg.append("g");
legend.append("rect").attr("x", 231).attr("y", 209).attr("width", 149).attr("height", 201)
  .attr("fill", "#ffffff").attr("stroke", "#111").attr("stroke-width", 2.6);
const legendRows = [238, 286, 333, 381];
seriesNames.forEach((n, i) => {
  legend.append("path").attr("d", diamond)
    .attr("transform", `translate(292,${legendRows[i]})`)
    .attr("fill", seriesColors[i]);
  legend.append("text").attr("x", 347).attr("y", legendRows[i] + 10)
    .attr("font-family", textFont).attr("font-size", 27)
    .attr("fill", "#1a1a1a")
    .text(n);
});

// title
svg.append("text")
  .attr("x", 1502).attr("y", 145)
  .attr("text-anchor", "middle")
  .attr("font-family", textFont).attr("font-weight", "bold")
  .attr("font-size", 74).attr("fill", "#000")
  .text(titleText);

// caption
const captionBaselines = [1868, 1957];
captionLines.forEach((t, i) => {
  svg.append("text")
    .attr("x", 1482).attr("y", captionBaselines[i])
    .attr("text-anchor", "middle")
    .attr("font-family", textFont).attr("font-weight", "bold").attr("font-style", "italic")
    .attr("font-size", 75).attr("fill", "#000")
    .text(t);
});
</script>
</body>
</html>
